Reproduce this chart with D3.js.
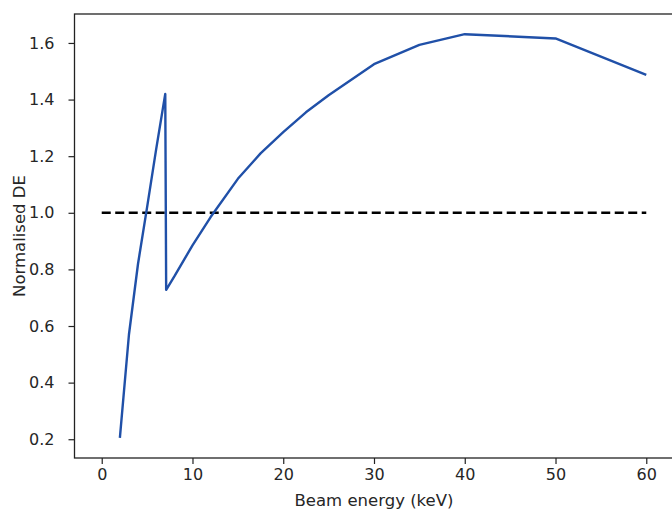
<!DOCTYPE html>
<html>
<head>
<meta charset="utf-8">
<script src="https://cdn.jsdelivr.net/npm/d3@7"></script>
<style>
  body { margin: 0; background: #fff; }
  svg { display: block; }
  .tick text { font-family: "DejaVu Sans", sans-serif; font-size: 16px; fill: #262626; }
  .lbl { font-family: "DejaVu Sans", sans-serif; font-size: 16.5px; fill: #262626; }
</style>
</head>
<body>
<div id="chart"></div>
<script>
// data
var energy = [2, 3, 4, 5, 6, 7, 7.1, 8, 9, 10, 12, 15, 17.5, 20, 22.5, 25, 30, 35, 40, 50, 60];
var normDE = [0.205, 0.57, 0.82, 1.02, 1.225, 1.42, 0.728, 0.775, 0.83, 0.885, 0.985, 1.12, 1.21, 1.285, 1.355, 1.415, 1.525, 1.593, 1.631, 1.616, 1.487];
var refX = [0, 60];
var refY = [1, 1];
var xTicks = [0, 10, 20, 30, 40, 50, 60];
var yTicks = [0.2, 0.4, 0.6, 0.8, 1.0, 1.2, 1.4, 1.6];

var svgWidth = 672;
var svgHeight = 509;

// plot box (right side runs just past the picture)
var box = { left: 74.5, right: 673.5, top: 14, bottom: 458 };

var svg = d3.select("#chart")
  .append("svg")
  .attr("width", svgWidth)
  .attr("height", svgHeight);

// matplotlib style 5% margins
function padded(ext) {
  var d = (ext[1] - ext[0]) * 0.05;
  return [ext[0] - d, ext[1] + d];
}

var xScale = d3.scaleLinear()
  .domain(padded(d3.extent(energy.concat(refX))))
  .range([box.left, box.right]);

var yScale = d3.scaleLinear()
  .domain(padded(d3.extent(normDE.concat(refY))))
  .range([box.bottom, box.top]);

// axes
var xAxis = svg.append("g")
  .attr("transform", `translate(0, ${box.bottom})`)
  .call(d3.axisBottom(xScale).tickValues(xTicks).tickSize(6).tickPadding(5).tickSizeOuter(0));

var yAxis = svg.append("g")
  .attr("transform", `translate(${box.left}, 0)`)
  .call(d3.axisLeft(yScale).tickValues(yTicks).tickFormat(d3.format(".1f")).tickSize(6).tickPadding(14).tickSizeOuter(0));

svg.selectAll(".domain").remove();
svg.selectAll(".tick line").attr("stroke", "#222").attr("stroke-width", 1.2);

// frame
svg.append("rect")
  .attr("x", box.left)
  .attr("y", box.top)
  .attr("width", box.right - box.left)
  .attr("height", box.bottom - box.top)
  .attr("fill", "none")
  .attr("stroke", "#222")
  .attr("stroke-width", 1.3);

// reference line at 1
var line = d3.line()
  .x(d => xScale(d[0]))
  .y(d => yScale(d[1]));

svg.append("path")
  .datum(d3.zip(refX, refY))
  .attr("d", line)
  .attr("fill", "none")
  .attr("stroke", "#000")
  .attr("stroke-width", 2.4)
  .attr("stroke-dasharray", "9,4.5");

// DE curve
svg.append("path")
  .datum(d3.zip(energy, normDE))
  .attr("d", line)
  .attr("fill", "none")
  .attr("stroke", "#2050a8")
  .attr("stroke-width", 2.4)
  .attr("stroke-linejoin", "round");

// labels
svg.append("text")
  .attr("class", "lbl")
  .attr("x", xScale(30))
  .attr("y", 506)
  .attr("text-anchor", "middle")
  .text("Beam energy (keV)");

svg.append("text")
  .attr("class", "lbl")
  .attr("transform", `translate(25, ${(box.top + box.bottom) / 2}) rotate(-90)`)
  .attr("text-anchor", "middle")
  .text("Normalised DE");
</script>
</body>
</html>
